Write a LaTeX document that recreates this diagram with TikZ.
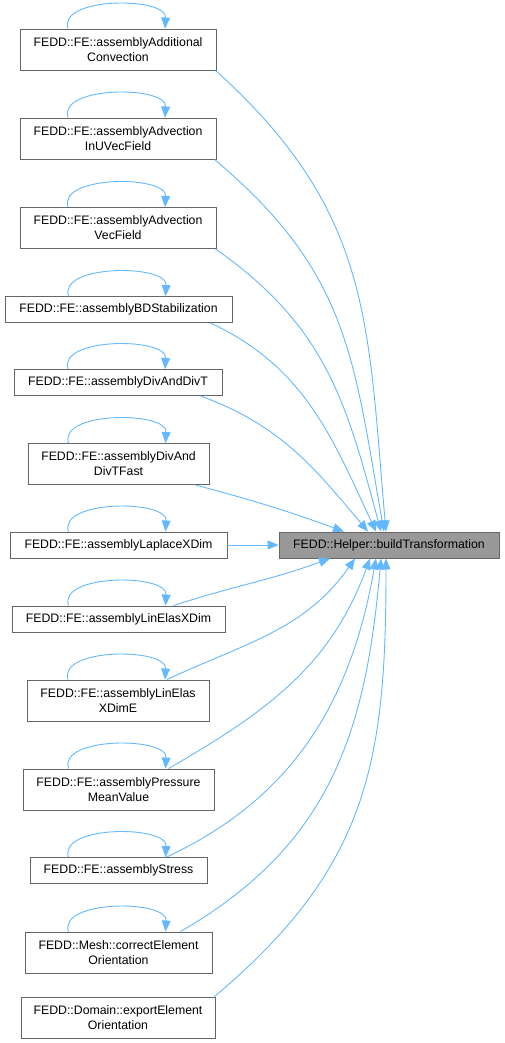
\documentclass[tikz,border=0pt]{standalone}
\usepackage{fontspec}
\setmainfont{Liberation Sans}
\usetikzlibrary{arrows.meta}
\definecolor{edgeblue}{HTML}{63B8FF}
\definecolor{nodeborder}{HTML}{666666}
\definecolor{targetfill}{HTML}{999999}
\begin{document}
\begin{tikzpicture}[x=1pt,y=-1pt,
  fn/.style={draw=nodeborder,line width=0.9pt,fill=white,inner sep=0pt,align=center,font=\fontsize{12.3}{15}\selectfont},
  one/.style={fn,minimum height=26pt},
  two/.style={fn,minimum height=41pt},
  tgt/.style={fn,fill=targetfill,minimum height=26pt},
  edge/.style={draw=edgeblue,line width=0.9pt,-{Triangle[length=11pt,width=9pt]}},
  selfloop/.style={edge}
]
\useasboundingbox (0,0) rectangle (504,1043);
\node[tgt,minimum width=220pt] (t) at (389,545) {FEDD::Helper::buildTransformation};
\node[two,minimum width=196pt] (n1) at (118,49.5) {FEDD::FE::assemblyAdditional\\Convection};
\node[two,minimum width=196pt] (n2) at (118,138.5) {FEDD::FE::assemblyAdvection\\InUVecField};
\node[two,minimum width=196pt] (n3) at (118,228) {FEDD::FE::assemblyAdvection\\VecField};
\node[one,minimum width=227pt] (n4) at (118.5,309.5) {FEDD::FE::assemblyBDStabilization};
\node[one,minimum width=208pt] (n5) at (118,382.5) {FEDD::FE::assemblyDivAndDivT};
\node[two,minimum width=181pt] (n6) at (118.5,464) {FEDD::FE::assemblyDivAnd\\DivTFast};
\node[one,minimum width=217pt] (n7) at (118.5,545) {FEDD::FE::assemblyLaplaceXDim};
\node[one,minimum width=213pt] (n8) at (118.5,619) {FEDD::FE::assemblyLinElasXDim};
\node[two,minimum width=182pt] (n9) at (118,700.5) {FEDD::FE::assemblyLinElas\\XDimE};
\node[two,minimum width=191pt] (n10) at (118.5,789.5) {FEDD::FE::assemblyPressure\\MeanValue};
\node[one,minimum width=177pt] (n11) at (118.5,870.5) {FEDD::FE::assemblyStress};
\node[two,minimum width=187pt] (n12) at (118.5,952.5) {FEDD::Mesh::correctElement\\Orientation};
\node[two,minimum width=194pt] (n13) at (118,1017.5) {FEDD::Domain::exportElement\\Orientation};
% self loops
\foreach \n in {n1,n2,n3,n4,n5,n6,n7,n8,n9,n10,n11,n12}{
  \draw[selfloop] ([xshift=-50pt]\n.north) .. controls +(-10,-32) and +(2,-32) .. ([xshift=47pt]\n.north);
}
% edges to target
\draw[edge] ([xshift=-1pt]n1.south east) to[out=-42,in=95,looseness=1.1] ([xshift=-3pt]t.north);
\draw[edge] ([xshift=-2pt]n2.south east) to[out=-40,in=100,looseness=1.1] ([xshift=-5pt]t.north);
\draw[edge] ([xshift=-1pt]n3.south east) to[out=-35,in=105,looseness=1.05] ([xshift=-8pt]t.north);
\draw[edge] ([xshift=-22pt]n4.south east) to[out=-25,in=115] ([xshift=-13pt]t.north);
\draw[edge] ([xshift=-22pt]n5.south east) to[out=-20,in=130] ([xshift=-21pt]t.north);
\draw[edge] ([xshift=-14pt]n6.south east) to[out=-15,in=160] ([xshift=-45pt]t.north);
\draw[edge] (n7.east) -- (t.west);
\draw[edge] ([xshift=55pt]n8.north) to[out=18,in=-160] ([xshift=-59pt]t.south);
\draw[edge] ([xshift=49pt]n9.north) to[out=25,in=-125] ([xshift=-34pt]t.south);
\draw[edge] ([xshift=50pt]n10.north) to[out=30,in=-110] ([xshift=-19pt]t.south);
\draw[edge] ([xshift=48pt]n11.north) to[out=25,in=-100] ([xshift=-13pt]t.south);
\draw[edge] ([xshift=62pt]n12.north) to[out=30,in=-95,looseness=1.05] ([xshift=-8pt]t.south);
\draw[edge] ([xshift=-1pt]n13.north east) to[out=40,in=-90,looseness=1.1] ([xshift=-3pt]t.south);
\end{tikzpicture}
\end{document}
